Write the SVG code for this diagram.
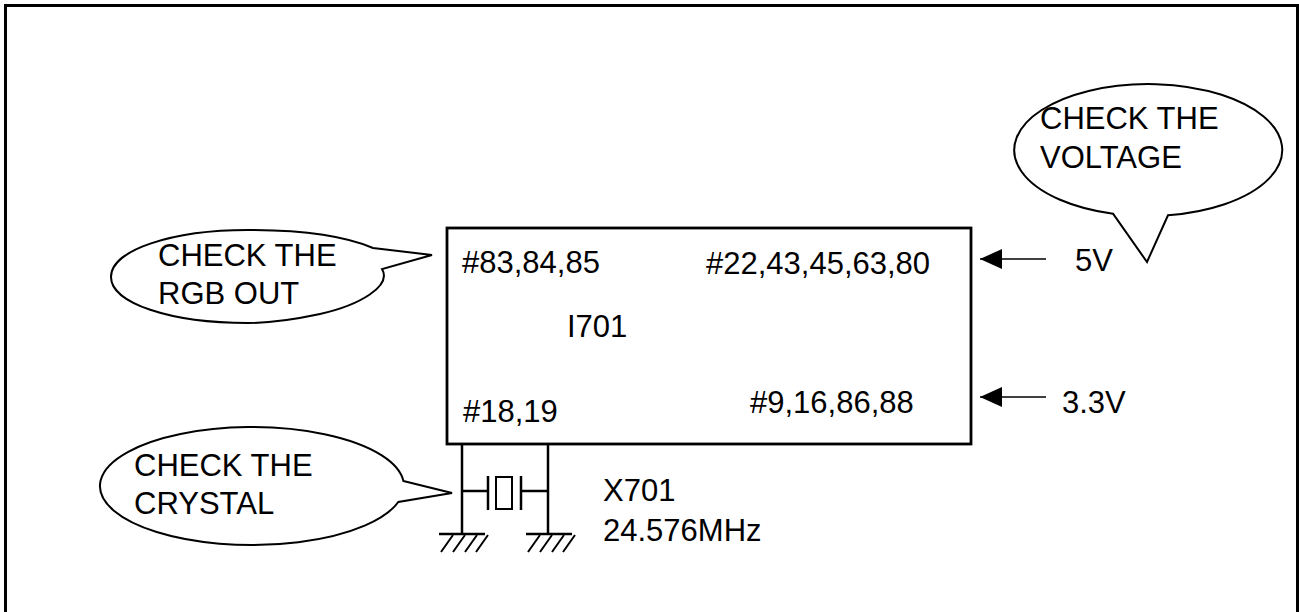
<svg xmlns="http://www.w3.org/2000/svg" width="1299" height="612" viewBox="0 0 1299 612">
<defs>
<style>
text{font-family:"Liberation Sans",Arial,sans-serif;font-size:31px;fill:#000}
.callout{fill:#fff;stroke:#000;stroke-width:2}
.wire{fill:none;stroke:#000;stroke-width:2.5}
.hatch{fill:none;stroke:#000;stroke-width:2}
.thin{fill:none;stroke:#000;stroke-width:1.5}
</style>
<marker id="ah" markerWidth="22" markerHeight="20" refX="22" refY="10" orient="auto" markerUnits="userSpaceOnUse">
<path d="M0,0 L22,10 L0,20 Z" fill="#000"/>
</marker>
</defs>
<rect x="0" y="0" width="1299" height="612" fill="#fff"/>
<rect x="5.5" y="5.5" width="1292" height="630" fill="none" stroke="#000" stroke-width="3"/>

<g id="ic-I701">
<rect x="447" y="228" width="524" height="216" fill="#fff" stroke="#000" stroke-width="2.8"/>
<text x="462" y="273">#83,84,85</text>
<text x="706" y="274">#22,43,45,63,80</text>
<text x="567" y="337">I701</text>
<text x="463" y="422">#18,19</text>
<text x="750" y="413">#9,16,86,88</text>
</g>

<g id="callout-rgb">
<path class="callout" d="M373,248 L432,255 L382,269 C392,286 360,305 320,314 C292,320 268,323 248,323 C170,323 111,303 111,277 C111,250 172,230 248,230 C300,230 345,236 373,248 Z"/>
<text x="158" y="266">CHECK THE</text>
<text x="158" y="304">RGB OUT</text>
</g>

<g id="callout-voltage">
<path class="callout" d="M1113,213.7 L1147,262 L1168,215.3 A134,66 0 1 0 1113,213.7 Z"/>
<text x="1040" y="129">CHECK THE</text>
<text x="1040" y="168">VOLTAGE</text>
</g>

<g id="callout-crystal">
<path class="callout" d="M403.4,481 L452,493 L398.3,502 A152,59 0 1 1 403.4,481 Z"/>
<text x="134" y="476">CHECK THE</text>
<text x="134" y="514">CRYSTAL</text>
</g>

<g id="crystal-X701">
<rect x="496" y="477" width="16" height="32" fill="none" stroke="#000" stroke-width="2"/>
<line class="wire" x1="488" y1="476" x2="488" y2="510"/>
<line class="wire" x1="521" y1="476" x2="521" y2="510"/>
<text x="603" y="501">X701</text>
<text x="603" y="541">24.576MHz</text>
</g>

<g id="ground-1">
<line class="wire" x1="439" y1="534" x2="485" y2="534"/>
<path class="hatch" d="M453,535 L441,552 M465,535 L453,552 M477,535 L465,552 M488,535 L476,552"/>
</g>
<g id="ground-2">
<line class="wire" x1="526" y1="534" x2="572" y2="534"/>
<path class="hatch" d="M540,535 L528,552 M552,535 L540,552 M564,535 L552,552 M575,535 L563,552"/>
</g>

<g id="supply-5V">
<text x="1075" y="271">5V</text>
</g>
<g id="supply-3V3">
<text x="1062" y="413">3.3V</text>
</g>

<g id="connectors">
<line class="wire" x1="462" y1="444" x2="462" y2="534"/>
<line class="wire" x1="548" y1="444" x2="548" y2="534"/>
<line class="wire" x1="462" y1="491" x2="488" y2="491"/>
<line class="wire" x1="521" y1="491" x2="548" y2="491"/>
<line class="thin" x1="1046" y1="259" x2="980" y2="259" marker-end="url(#ah)"/>
<line class="thin" x1="1046" y1="397" x2="980" y2="397" marker-end="url(#ah)"/>
</g>
</svg>
